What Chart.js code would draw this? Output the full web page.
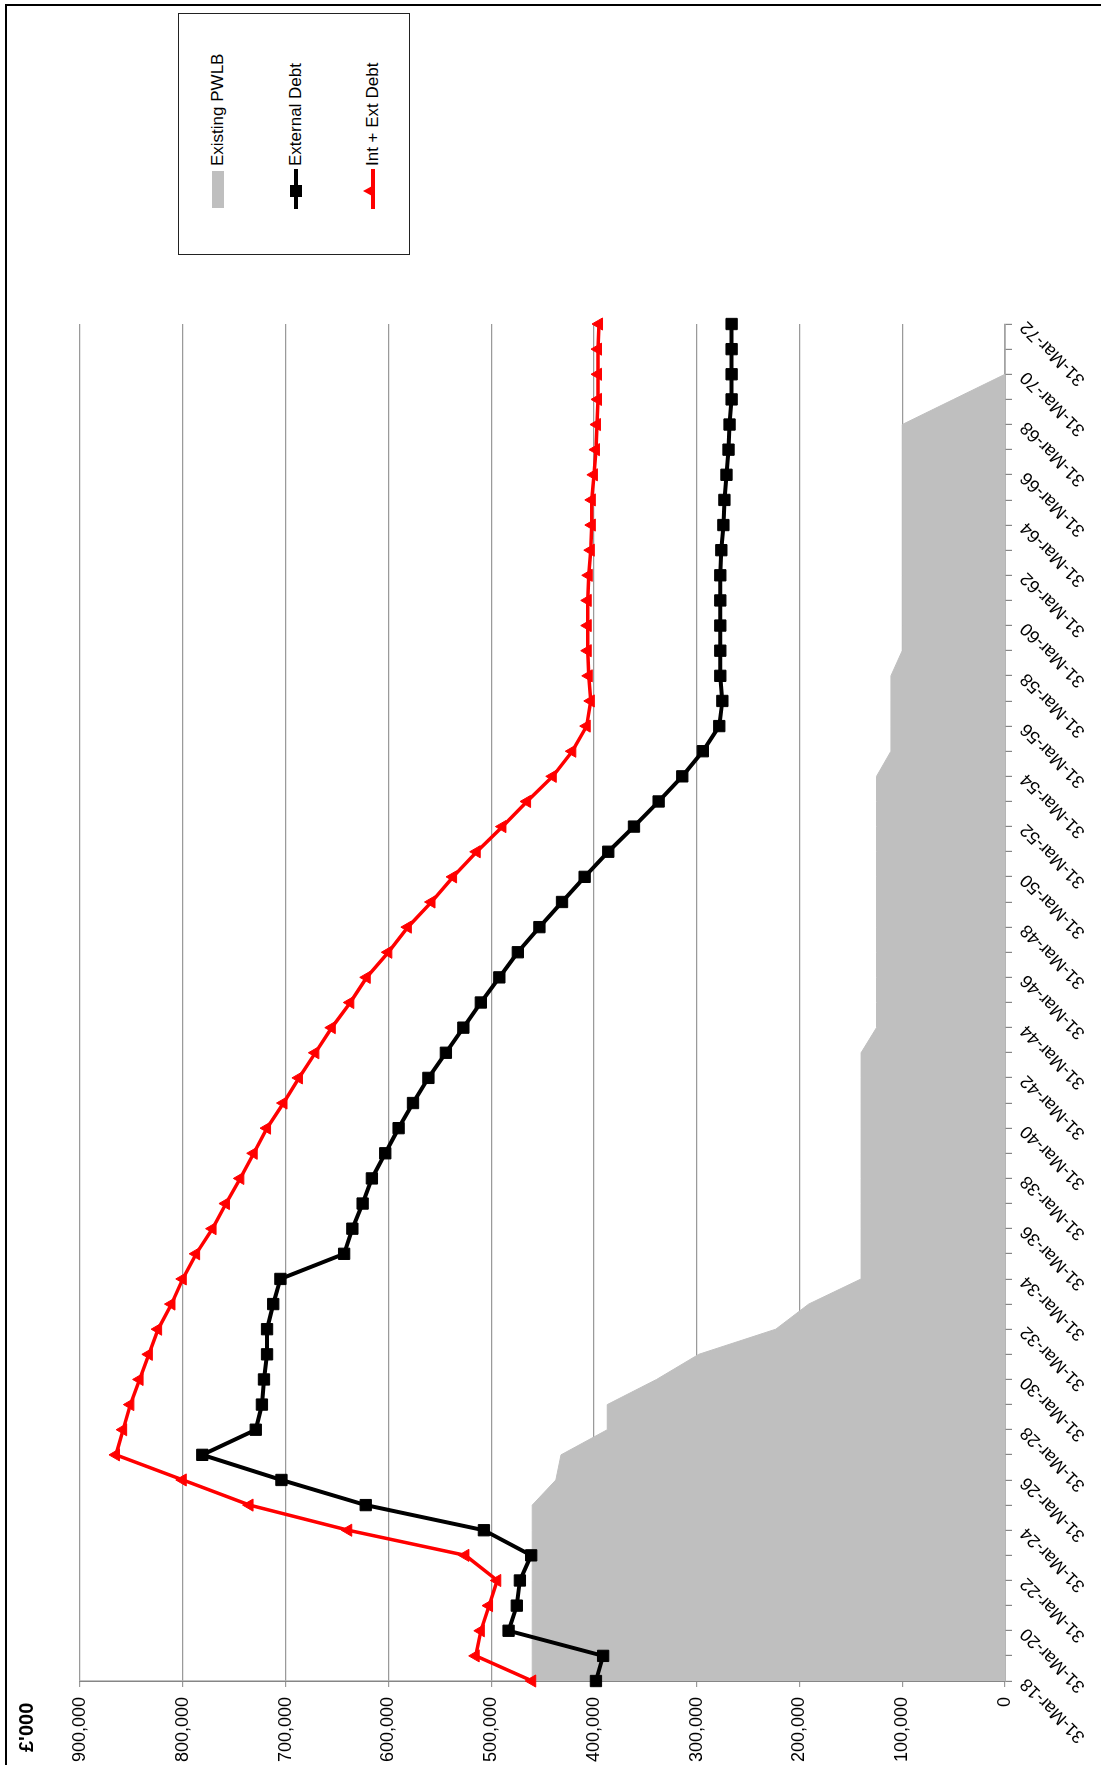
<!DOCTYPE html>
<html>
<head>
<meta charset="utf-8">
<script src="https://cdn.jsdelivr.net/npm/chart.js@4/dist/chart.umd.min.js"></script>
<style>
  html, body { margin: 0; padding: 0; background: #fff; overflow: hidden; }
  body { width: 1101px; height: 1765px; position: relative; }
  #rot { position: absolute; left: 0; top: 0; width: 1765px; height: 1101px;
         transform-origin: 0 0; transform: translateY(1765px) rotate(-90deg); }
  #c { position: absolute; left: 0; top: 0; }
  #frame { position: absolute; left: 5px; top: 4px; width: 1200px; height: 1900px;
           border-top: 2.5px solid #000; border-left: 2.5px solid #000; pointer-events: none; }
  #unit { position: absolute; left: 13px; top: 16px; font: bold 20px "Liberation Sans", Arial, sans-serif;
          line-height: 20px; color: #000; }
  #legend { position: absolute; left: 1510px; top: 178px; width: 240px; height: 230px;
            border: 1.5px solid #222; background: #fff; font: 17px "Liberation Sans", Arial, sans-serif; color: #000; }
  .txt { position: absolute; left: 88px; height: 20px; line-height: 20px; white-space: nowrap; }
  .sw { position: absolute; }
</style>
</head>
<body>
<div id="rot">
  <canvas id="c" width="1765" height="1101"></canvas>
  <div id="unit">£'000</div>
  <div id="legend">
    <div class="sw" style="left:46px; top:33px; width:37px; height:12px; background:#bfbfbf;"></div>
    <div class="txt" style="top:29px;">Existing PWLB</div>
    <div class="sw" style="left:45px; top:115px; width:40px; height:4px; background:#000;"></div>
    <div class="sw" style="left:57px; top:111px; width:12px; height:12px; background:#000;"></div>
    <div class="txt" style="top:107px;">External Debt</div>
    <div class="sw" style="left:45px; top:192px; width:40px; height:3.5px; background:#f00;"></div>
    <div class="sw" style="left:57px; top:184px; width:0; height:0; border-left:6px solid transparent; border-right:6px solid transparent; border-bottom:11px solid #f00;"></div>
    <div class="txt" style="top:184px;">Int + Ext Debt</div>
  </div>
</div>
<div id="frame"></div>
<script>
const labels = ['31-Mar-18','31-Mar-19','31-Mar-20','31-Mar-21','31-Mar-22','31-Mar-23','31-Mar-24','31-Mar-25','31-Mar-26','31-Mar-27',
  '31-Mar-28','31-Mar-29','31-Mar-30','31-Mar-31','31-Mar-32','31-Mar-33','31-Mar-34','31-Mar-35','31-Mar-36','31-Mar-37',
  '31-Mar-38','31-Mar-39','31-Mar-40','31-Mar-41','31-Mar-42','31-Mar-43','31-Mar-44','31-Mar-45','31-Mar-46','31-Mar-47',
  '31-Mar-48','31-Mar-49','31-Mar-50','31-Mar-51','31-Mar-52','31-Mar-53','31-Mar-54','31-Mar-55','31-Mar-56','31-Mar-57',
  '31-Mar-58','31-Mar-59','31-Mar-60','31-Mar-61','31-Mar-62','31-Mar-63','31-Mar-64','31-Mar-65','31-Mar-66','31-Mar-67',
  '31-Mar-68','31-Mar-69','31-Mar-70','31-Mar-71','31-Mar-72'];

const existingPWLB = [460000,460000,460000,460000,460000,460000,460000,460000,437000,432000,
  387000,387000,339000,298000,223000,191000,140000,140000,140000,140000,
  140000,140000,140000,140000,140000,140000,125000,125000,125000,125000,
  125000,125000,125000,125000,125000,125000,125000,111000,111000,111000,
  111000,100000,100000,100000,100000,100000,100000,100000,100000,100000,
  100000,50000,0,0,0];

const externalDebt = [398000,391000,483000,475000,472000,461000,507000,622000,704000,781000,
  729000,723000,721000,718000,718000,712000,705000,643000,635000,625000,
  616000,603000,590000,576000,561000,544000,527000,510000,492000,474000,
  453000,431000,409000,386000,361000,337000,314000,294000,278000,275000,
  277000,277000,277000,277000,277000,276000,274000,273000,271000,269000,
  268000,266000,266000,266000,266000];

const intExtDebt = [460000,515000,510000,502000,494000,525000,639000,735000,800000,865000,
  858000,851000,842000,833000,824000,811000,800000,787000,771000,758000,
  744000,731000,718000,702000,687000,671000,655000,637000,621000,600000,
  581000,558000,537000,514000,489000,465000,440000,421000,407000,403000,
  405000,406000,406000,406000,405000,403000,402000,402000,400000,398000,
  397000,396000,396000,396000,395000];

const valueMin = 0, valueMax = 900000, valueStep = 100000;

const FONT = '"Liberation Sans", Arial, sans-serif';
Chart.defaults.font.family = FONT;
Chart.defaults.color = '#000';

new Chart(document.getElementById('c').getContext('2d'), {
  type: 'line',
  data: {
    labels: labels,
    datasets: [
      { label: 'Int + Ext Debt', data: intExtDebt, borderColor: '#ff0000', backgroundColor: '#ff0000',
        borderWidth: 3.5, pointStyle: 'triangle', pointRadius: 7, pointBorderWidth: 1,
        tension: 0, fill: false, order: 0, clip: false },
      { label: 'External Debt', data: externalDebt, borderColor: '#000000', backgroundColor: '#000000',
        borderWidth: 4, pointStyle: 'rect', pointRadius: 8, pointBorderWidth: 1,
        tension: 0, fill: false, order: 1, clip: false },
      { label: 'Existing PWLB', data: existingPWLB, borderColor: '#bfbfbf', backgroundColor: '#bfbfbf',
        borderWidth: 1, pointRadius: 0, tension: 0, fill: 'origin', order: 2 }
    ]
  },
  options: {
    responsive: false, animation: false, devicePixelRatio: 1,
    layout: { padding: { left: 0, top: 80, right: 324, bottom: 0 } },
    plugins: { legend: { display: false }, tooltip: { enabled: false } },
    scales: {
      x: {
        type: 'category', offset: false,
        grid: { display: true, drawOnChartArea: false, drawTicks: true, tickLength: 7, color: '#868686', lineWidth: 1.2 },
        border: { display: true, color: '#868686', width: 1.5 },
        ticks: { autoSkip: false, minRotation: 45, maxRotation: 45, padding: 4, font: { size: 18 }, color: '#000',
                 callback: (v, i) => (i % 2 === 0 ? labels[i] : '') },
        afterFit: (s) => { s.height = 96; }
      },
      y: {
        min: valueMin, max: valueMax,
        ticks: { stepSize: valueStep, padding: 10, font: { size: 18 }, color: '#000',
                 callback: (v) => Number(v).toLocaleString('en-US') },
        grid: { color: '#9a9a9a', lineWidth: 1.2, tickLength: 6, drawTicks: true },
        border: { display: true, color: '#868686', width: 1.5 },
        afterFit: (s) => { s.width = 84; }
      }
    }
  }
});
</script>
</body>
</html>
